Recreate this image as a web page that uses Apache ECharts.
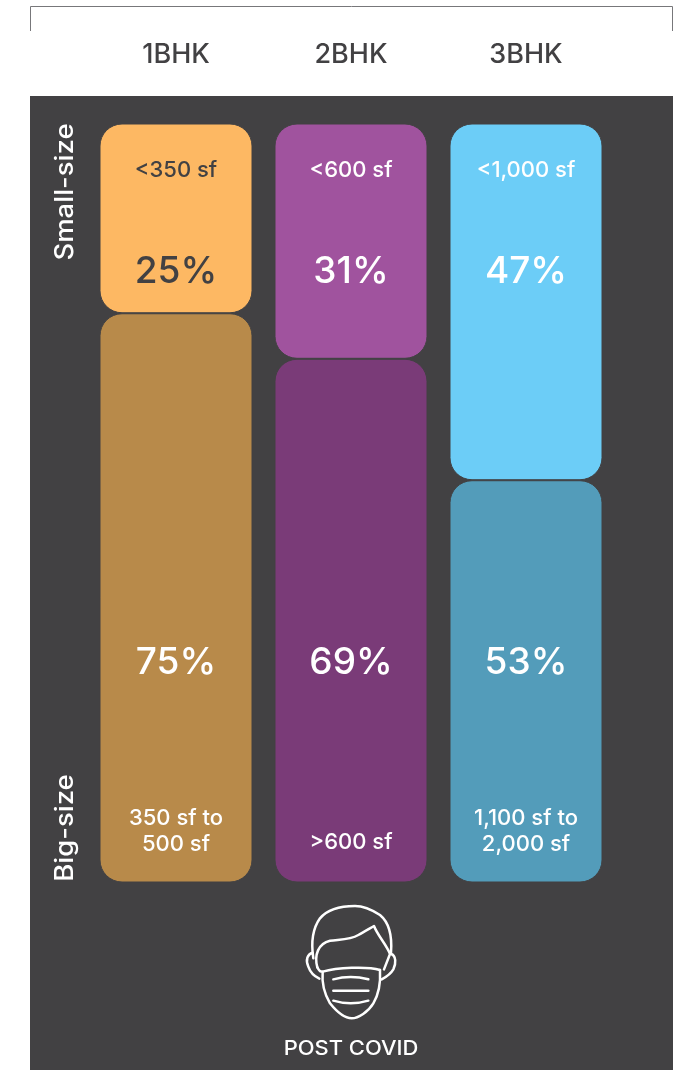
<!DOCTYPE html>
<html>
<head>
<meta charset="utf-8">
<style>html,body{margin:0;padding:0;background:#fff}#chart{width:682px;height:1070px}</style>
<script src="https://cdn.jsdelivr.net/npm/echarts@6/dist/echarts.min.js"></script>
</head>
<body>
<div id="chart"></div>
<script>
// Unit types and the share of demand for small and big homes, post Covid
const categories = ['1BHK', '2BHK', '3BHK'];
const smallShare = [25, 31, 47];
const bigShare = [75, 69, 53];
const smallRange = ['<350 sf', '<600 sf', '<1,000 sf'];
const bigRange = ['350 sf to\n500 sf', '>600 sf', '1,100 sf to\n2,000 sf'];
const smallColors = ['#FDB863', '#A0539E', '#6CCDF7'];
const bigColors = ['#B88A4A', '#7A3B78', '#539CBA'];
const smallTextColors = ['#424143', '#FFFFFF', '#FFFFFF'];

const DARK = '#424143';
const FONT = 'Inter, "Noto Sans", sans-serif';

// Text rows sit at fixed heights on the share axis, whatever the bar split is
function textRow(name, rowOf, textOf, size, colorOf, weight) {
  return {
    name, type: 'scatter', symbolSize: 0, silent: true, z: 5,
    itemStyle: { opacity: 1 },
    data: categories.map((c, i) => ({
      value: [i, rowOf(i)],
      label: {
        show: true, position: 'inside', formatter: textOf(i),
        fontFamily: FONT, fontSize: size, fontWeight: weight,
        color: colorOf(i), lineHeight: 26, align: 'center', verticalAlign: 'middle'
      }
    }))
  };
}

function barStyle(colors) {
  return {
    borderRadius: 22, borderColor: DARK, borderWidth: 1,
    color: p => colors[p.dataIndex]
  };
}

// Face with a surgical mask, in a 3x drawing space scaled down to size
const maskPaths = [
  'M250,235 C243,190 245,150 270,115 C295,85 340,78 375,78 C405,78 430,92 450,105 C478,128 487,165 483,218',
  'M262,262 C252,225 265,190 300,182 C330,178 360,180 385,165 C400,156 418,146 432,138 C442,165 470,195 480,222 L462,268',
  'M248,218 C232,222 226,240 235,260 C241,278 255,290 268,296',
  'M484,222 C498,228 499,250 490,268 C482,282 470,290 455,298',
  'M278,275 C320,263 410,258 450,270',
  'M262,262 C268,275 272,275 278,275 C275,310 285,345 300,370 C320,395 345,415 365,415 C385,415 415,395 430,370 C445,345 452,305 450,270',
  'M310,298 Q362,284 415,298',
  'M310,332 L415,332',
  'M310,362 Q362,378 415,362'
];

const chart = echarts.init(document.getElementById('chart'), null, { renderer: 'canvas' });
chart.setOption({
  animation: false,
  grid: { left: 88.5, top: 123.5, width: 525, height: 759 },
  xAxis: {
    type: 'category', position: 'top', data: categories,
    axisLine: { show: false }, axisTick: { show: false },
    axisLabel: { margin: 55, fontFamily: FONT, fontSize: 27, fontWeight: 500, color: DARK }
  },
  yAxis: { type: 'value', inverse: true, min: 0, max: 100, show: false },
  graphic: [
    { type: 'rect', z: -10, silent: true, shape: { x: 30, y: 96, width: 643, height: 974 }, style: { fill: DARK } },
    { type: 'polyline', silent: true, shape: { points: [[30.5, 31], [30.5, 6.5], [672.5, 6.5], [672.5, 31]] }, style: { fill: null, stroke: '#77777A', lineWidth: 1 } },
    { type: 'text', silent: true, x: 65.5, y: 192, rotation: Math.PI / 2, scaleX: 1.1, style: { text: 'Small-size', fontFamily: FONT, fontSize: 25, fontWeight: 500, fill: '#fff', align: 'center', verticalAlign: 'middle' } },
    { type: 'text', silent: true, x: 65.5, y: 828, rotation: Math.PI / 2, scaleX: 1.1, style: { text: 'Big-size', fontFamily: FONT, fontSize: 25, fontWeight: 500, fill: '#fff', align: 'center', verticalAlign: 'middle' } },
    { type: 'text', silent: true, x: 351, y: 1048.5, scaleX: 1.07, style: { text: 'POST COVID', fontFamily: FONT, fontSize: 20.5, fontWeight: 500, fill: '#fff', align: 'center', verticalAlign: 'middle' } }
  ],
  series: [
    { name: 'Small-size', type: 'bar', stack: 'share', barWidth: 153, data: smallShare, itemStyle: barStyle(smallColors) },
    { name: 'Big-size', type: 'bar', stack: 'share', barWidth: 153, data: bigShare, itemStyle: barStyle(bigColors) },
    textRow('Small range', () => 6.2, i => smallRange[i], 22, i => smallTextColors[i], 500),
    textRow('Small share', () => 19.55, i => smallShare[i] + '%', 37, i => smallTextColors[i], 500),
    textRow('Big share', () => 71.1, i => bigShare[i] + '%', 37, () => '#fff', 500),
    textRow('Big range', i => bigRange[i].includes('\n') ? 93.3 : 94.7, i => bigRange[i], 22, () => '#fff', 500),
    {
      name: 'Post Covid icon', type: 'custom', silent: true, z: 6, data: [0],
      renderItem: () => ({
        type: 'group', x: 230, y: 880, scaleX: 1 / 3, scaleY: 1 / 3,
        children: maskPaths.map(d => ({
          type: 'path', shape: { pathData: d },
          style: { fill: 'none', stroke: '#fff', lineWidth: 7.5, lineCap: 'round', lineJoin: 'round' }
        }))
      })
    }
  ]
});
</script>
</body>
</html>
